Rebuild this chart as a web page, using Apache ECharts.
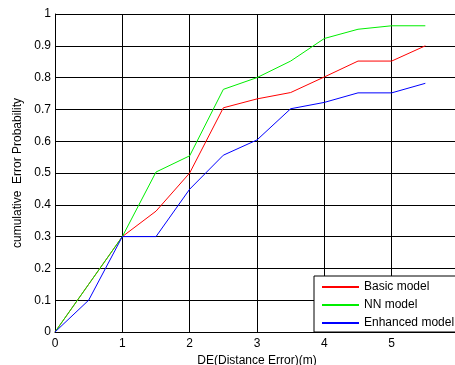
<!DOCTYPE html>
<html><head><meta charset="utf-8">
<script src="https://cdn.jsdelivr.net/npm/echarts@6/dist/echarts.min.js"></script>
<style>html,body{margin:0;padding:0;background:#fff}#c{width:455px;height:365px}</style>
</head><body><div id="c"></div>
<script>
var xValues = [0, 0.5, 1, 1.5, 2, 2.5, 3, 3.5, 4, 4.5, 5, 5.5];
var basicModel = [0, 0.15, 0.3, 0.38, 0.5, 0.705, 0.733, 0.753, 0.802, 0.852, 0.852, 0.9];
var nnModel = [0, 0.15, 0.3, 0.503, 0.554, 0.763, 0.8, 0.852, 0.923, 0.952, 0.963, 0.963];
var enhancedModel = [0, 0.1, 0.3, 0.3, 0.449, 0.556, 0.604, 0.702, 0.722, 0.752, 0.752, 0.782];
var seriesNames = ['Basic model', 'NN model', 'Enhanced model'];
var xTickLabels = ['0', '1', '2', '3', '4', '5'];

function pairs(ys) { return xValues.map(function (x, i) { return [x, ys[i]]; }); }
var font = 'Liberation Sans, Arial, sans-serif';
var chart = echarts.init(document.getElementById('c'), null, { renderer: 'canvas' });
var colors = ['#ff0000', '#00ee00', '#0000ff'];
var data = [basicModel, nnModel, enhancedModel];
chart.setOption({
  animation: false,
  backgroundColor: '#fff',
  grid: { left: 55, top: 14, width: 404, height: 318, containLabel: false, outerBoundsMode: 'none' },
  xAxis: {
    type: 'value', min: 0, max: 6, interval: 1,
    name: 'DE(Distance Error)(m)', nameLocation: 'middle', nameGap: 20,
    nameTextStyle: { color: '#000', fontSize: 12, fontFamily: font },
    axisLine: { lineStyle: { color: '#000', width: 1 } },
    axisTick: { inside: true, length: 3, lineStyle: { color: '#000' } },
    axisLabel: { color: '#000', fontSize: 12, fontFamily: font, margin: 6,
      formatter: function (v) { var i = Math.round(v); return i < xTickLabels.length ? xTickLabels[i] : ''; } },
    splitLine: { show: true, lineStyle: { color: '#000', width: 1 } }
  },
  yAxis: {
    type: 'value', min: 0, max: 1, interval: 0.1,
    name: 'cumulative  Error Probability', nameLocation: 'middle', nameGap: 25,
    nameTextStyle: { color: '#000', fontSize: 12, fontFamily: font },
    axisLine: { show: true, lineStyle: { color: '#000', width: 1 } },
    axisTick: { show: true, inside: true, length: 3, lineStyle: { color: '#000' } },
    axisLabel: { color: '#000', fontSize: 12, fontFamily: font, margin: 4,
      formatter: function (v) { return String(Math.round(v * 10) / 10); } },
    splitLine: { show: true, lineStyle: { color: '#000', width: 1 } }
  },
  legend: {
    orient: 'vertical', left: 314, top: 276,
    padding: [4, 10, 2, 8], itemGap: 4, itemWidth: 37, itemHeight: 2, icon: 'rect',
    backgroundColor: '#fff', borderColor: '#000', borderWidth: 1, borderRadius: 0,
    textStyle: { color: '#000', fontSize: 12, fontFamily: font, lineHeight: 14 },
    data: seriesNames
  },
  series: seriesNames.map(function (n, k) {
    return { name: n, type: 'line', data: pairs(data[k]), symbol: 'none',
      color: colors[k], lineStyle: { color: colors[k], width: 1 } };
  })
});
</script></body></html>
